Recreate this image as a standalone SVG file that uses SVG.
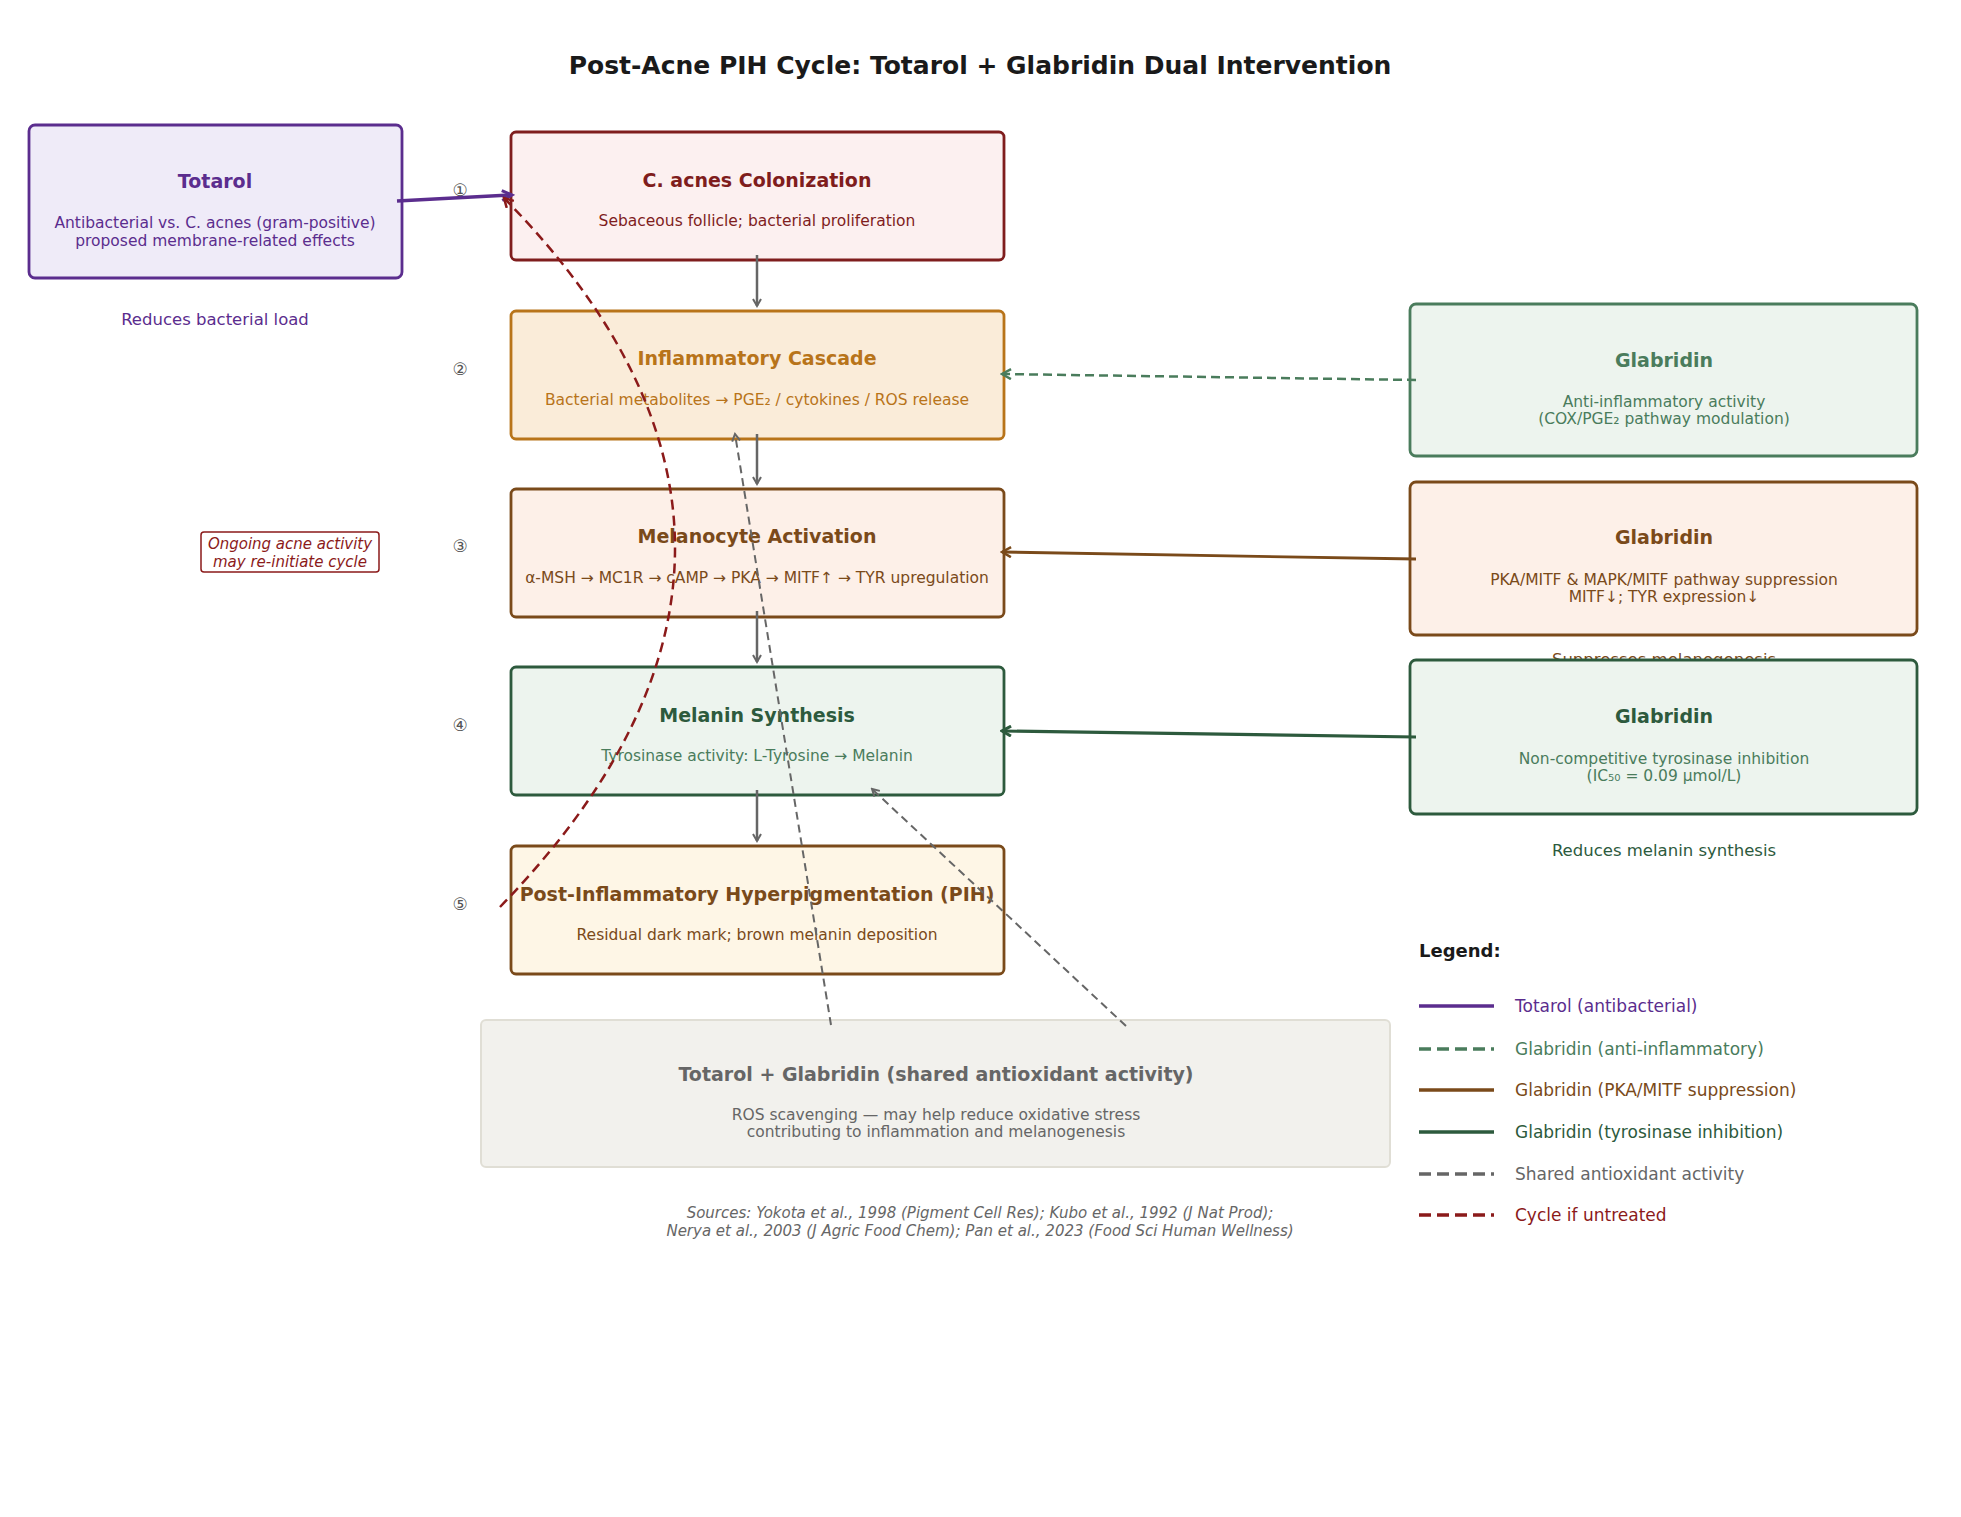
<svg xmlns="http://www.w3.org/2000/svg" width="1961" height="1517" viewBox="0 0 1961 1517">
<style>
text{font-family:"DejaVu Sans","Noto Sans",sans-serif;text-anchor:middle}
.t{font-size:19px;font-weight:bold}
.s{font-size:15.5px}
.n{font-size:17px;fill:#555}
.box{stroke-width:2.8}
.lg{font-size:17px;text-anchor:start}
</style>
<defs>
<marker id="ag" markerWidth="10" markerHeight="10" refX="8" refY="5" orient="auto" markerUnits="userSpaceOnUse"><path d="M1,1 L8,5 L1,9" fill="none" stroke="#666" stroke-width="2"/></marker>
<marker id="ap" markerWidth="14" markerHeight="14" refX="11" refY="7" orient="auto" markerUnits="userSpaceOnUse"><path d="M1,2 L11,7 L1,12" fill="none" stroke="#5b2d8e" stroke-width="3"/></marker>
<marker id="agr" markerWidth="12" markerHeight="12" refX="10" refY="6" orient="auto" markerUnits="userSpaceOnUse"><path d="M1,1 L10,6 L1,11" fill="none" stroke="#4a7c5c" stroke-width="2.5"/></marker>
<marker id="ab" markerWidth="12" markerHeight="12" refX="10" refY="6" orient="auto" markerUnits="userSpaceOnUse"><path d="M1,1 L10,6 L1,11" fill="none" stroke="#7a4a1a" stroke-width="2.5"/></marker>
<marker id="adg" markerWidth="12" markerHeight="12" refX="10" refY="6" orient="auto" markerUnits="userSpaceOnUse"><path d="M1,1 L10,6 L1,11" fill="none" stroke="#2d5a3d" stroke-width="3"/></marker>
<marker id="ar" markerWidth="12" markerHeight="12" refX="10" refY="6" orient="auto" markerUnits="userSpaceOnUse"><path d="M1,1 L10,6 L1,11" fill="none" stroke="#8b1a1a" stroke-width="2.5"/></marker>
</defs>
<rect width="1961" height="1517" fill="#fff"/>
<text x="980" y="74" style="font-size:25px;font-weight:bold" fill="#1a1a1a">Post-Acne PIH Cycle: Totarol + Glabridin Dual Intervention</text>

<g id="totarol">
<rect class="box" x="29" y="125" width="373" height="153" rx="6" fill="#efebf8" stroke="#5b2d8e"/>
<text class="t" x="215" y="188" fill="#5b2d8e">Totarol</text>
<text class="s" x="215" y="228" fill="#5b2d8e">Antibacterial vs. C. acnes (gram-positive)</text>
<text class="s" x="215" y="246" fill="#5b2d8e">proposed membrane-related effects</text>
<text x="215" y="325" style="font-size:16.5px" fill="#5b2d8e">Reduces bacterial load</text>
</g>

<g id="colonization">
<rect class="box" x="511" y="132" width="493" height="128" rx="5" fill="#fcf0f0" stroke="#7f1d1d"/>
<text class="t" x="757" y="187" fill="#7f1d1d">C. acnes Colonization</text>
<text class="s" x="757" y="226" fill="#7f1d1d">Sebaceous follicle; bacterial proliferation</text>
</g>
<g id="inflammatory">
<rect class="box" x="511" y="311" width="493" height="128" rx="5" fill="#faecd9" stroke="#b8741a"/>
<text class="t" x="757" y="365" fill="#b8741a">Inflammatory Cascade</text>
<text class="s" x="757" y="405" fill="#b8741a">Bacterial metabolites → PGE₂ / cytokines / ROS release</text>
</g>
<g id="melanocyte">
<rect class="box" x="511" y="489" width="493" height="128" rx="5" fill="#fdf0e8" stroke="#7a4a1a"/>
<text class="t" x="757" y="543" fill="#7a4a1a">Melanocyte Activation</text>
<text class="s" x="757" y="583" fill="#7a4a1a">α-MSH → MC1R → cAMP → PKA → MITF↑ → TYR upregulation</text>
</g>
<g id="melanin">
<rect class="box" x="511" y="667" width="493" height="128" rx="5" fill="#edf4ee" stroke="#2d5a3d"/>
<text class="t" x="757" y="722" fill="#2d5a3d">Melanin Synthesis</text>
<text class="s" x="757" y="761" fill="#4a7c5c">Tyrosinase activity: L-Tyrosine → Melanin</text>
</g>
<g id="pih">
<rect class="box" x="511" y="846" width="493" height="128" rx="5" fill="#fef6e6" stroke="#7a4a1a"/>
<text class="t" x="757" y="901" fill="#7a4a1a">Post-Inflammatory Hyperpigmentation (PIH)</text>
<text class="s" x="757" y="940" fill="#7a4a1a">Residual dark mark; brown melanin deposition</text>
</g>

<g id="glab1">
<rect class="box" x="1410" y="304" width="507" height="152" rx="6" fill="#edf4ee" stroke="#4a7c5c"/>
<text class="t" x="1664" y="367" fill="#4a7c5c">Glabridin</text>
<text class="s" x="1664" y="407" fill="#4a7c5c">Anti-inflammatory activity</text>
<text class="s" x="1664" y="424" fill="#4a7c5c">(COX/PGE₂ pathway modulation)</text>
<text x="1664" y="493" style="font-size:16.5px" fill="#4a7c5c">Modulates inflammatory</text>
<text x="1664" y="514" style="font-size:16.5px" fill="#4a7c5c">melanogenic signaling</text>
</g>
<g id="glab2">
<rect class="box" x="1410" y="482" width="507" height="153" rx="6" fill="#fdf0e8" stroke="#7a4a1a"/>
<text class="t" x="1664" y="544" fill="#7a4a1a">Glabridin</text>
<text class="s" x="1664" y="585" fill="#7a4a1a">PKA/MITF &amp; MAPK/MITF pathway suppression</text>
<text class="s" x="1664" y="602" fill="#7a4a1a">MITF↓; TYR expression↓</text>
<text x="1664" y="665" style="font-size:16.5px" fill="#7a4a1a">Suppresses melanogenesis</text>
<text x="1664" y="686" style="font-size:16.5px" fill="#7a4a1a">at transcription level</text>
</g>
<g id="glab3">
<rect class="box" x="1410" y="660" width="507" height="154" rx="6" fill="#edf4ee" stroke="#2d5a3d"/>
<text class="t" x="1664" y="723" fill="#2d5a3d">Glabridin</text>
<text class="s" x="1664" y="764" fill="#4a7c5c">Non-competitive tyrosinase inhibition</text>
<text class="s" x="1664" y="781" fill="#4a7c5c">(IC₅₀ = 0.09 μmol/L)</text>
<text x="1664" y="856" style="font-size:16.5px" fill="#2d5a3d">Reduces melanin synthesis</text>
</g>

<g id="antioxidant">
<rect x="481" y="1020" width="909" height="147" rx="5" fill="#f2f1ed" stroke="#e0ded5" stroke-width="2"/>
<text class="t" x="936" y="1081" fill="#666">Totarol + Glabridin (shared antioxidant activity)</text>
<text class="s" x="936" y="1120" fill="#666">ROS scavenging — may help reduce oxidative stress</text>
<text class="s" x="936" y="1137" fill="#666">contributing to inflammation and melanogenesis</text>
</g>

<g id="ongoing">
<rect x="201" y="532" width="178" height="40" rx="3" fill="#fff" stroke="#8b1a1a" stroke-width="1.5"/>
<text x="290" y="549" style="font-size:15px;font-style:italic" fill="#8b1a1a">Ongoing acne activity</text>
<text x="290" y="567" style="font-size:15px;font-style:italic" fill="#8b1a1a">may re-initiate cycle</text>
</g>

<g id="numbers">
<text class="n" x="460" y="196">①</text>
<text class="n" x="460" y="375">②</text>
<text class="n" x="460" y="552">③</text>
<text class="n" x="460" y="731">④</text>
<text class="n" x="460" y="910">⑤</text>
</g>

<g id="connectors" fill="none">
<line x1="757" y1="255" x2="757" y2="306" stroke="#666" stroke-width="2.5" marker-end="url(#ag)"/>
<line x1="757" y1="434" x2="757" y2="484" stroke="#666" stroke-width="2.5" marker-end="url(#ag)"/>
<line x1="757" y1="611" x2="757" y2="662" stroke="#666" stroke-width="2.5" marker-end="url(#ag)"/>
<line x1="757" y1="790" x2="757" y2="841" stroke="#666" stroke-width="2.5" marker-end="url(#ag)"/>
<line x1="397" y1="201" x2="512" y2="195" stroke="#5b2d8e" stroke-width="3.5" marker-end="url(#ap)"/>
<line x1="1416" y1="380" x2="1002" y2="374" stroke="#4a7c5c" stroke-width="2.5" stroke-dasharray="9,5" marker-end="url(#agr)"/>
<line x1="1416" y1="559" x2="1002" y2="552" stroke="#7a4a1a" stroke-width="2.8" marker-end="url(#ab)"/>
<line x1="1416" y1="737" x2="1002" y2="731" stroke="#2d5a3d" stroke-width="3.2" marker-end="url(#adg)"/>
<line x1="831" y1="1025" x2="735" y2="434" stroke="#666" stroke-width="2" stroke-dasharray="8,5" marker-end="url(#ag)"/>
<line x1="1126" y1="1026" x2="872" y2="789" stroke="#666" stroke-width="2" stroke-dasharray="8,5" marker-end="url(#ag)"/>
<path d="M500,907 Q848,548 504,198" stroke="#8b1a1a" stroke-width="2.5" stroke-dasharray="10,6" marker-end="url(#ar)"/>
</g>

<g id="legend">
<text x="1419" y="957" style="font-size:18px;font-weight:bold;text-anchor:start" fill="#1a1a1a">Legend:</text>
<line x1="1419" y1="1006" x2="1494" y2="1006" stroke="#5b2d8e" stroke-width="3.5"/>
<text class="lg" x="1515" y="1012" fill="#5b2d8e">Totarol (antibacterial)</text>
<line x1="1419" y1="1049" x2="1494" y2="1049" stroke="#4a7c5c" stroke-width="3.5" stroke-dasharray="12,6"/>
<text class="lg" x="1515" y="1055" fill="#4a7c5c">Glabridin (anti-inflammatory)</text>
<line x1="1419" y1="1090" x2="1494" y2="1090" stroke="#7a4a1a" stroke-width="3.5"/>
<text class="lg" x="1515" y="1096" fill="#7a4a1a">Glabridin (PKA/MITF suppression)</text>
<line x1="1419" y1="1132" x2="1494" y2="1132" stroke="#2d5a3d" stroke-width="3.5"/>
<text class="lg" x="1515" y="1138" fill="#2d5a3d">Glabridin (tyrosinase inhibition)</text>
<line x1="1419" y1="1174" x2="1494" y2="1174" stroke="#666" stroke-width="3.5" stroke-dasharray="12,6"/>
<text class="lg" x="1515" y="1180" fill="#666">Shared antioxidant activity</text>
<line x1="1419" y1="1215" x2="1494" y2="1215" stroke="#8b1a1a" stroke-width="3.5" stroke-dasharray="12,6"/>
<text class="lg" x="1515" y="1221" fill="#8b1a1a">Cycle if untreated</text>
</g>

<text x="980" y="1218" style="font-size:15px;font-style:italic" fill="#666">Sources: Yokota et al., 1998 (Pigment Cell Res); Kubo et al., 1992 (J Nat Prod);</text>
<text x="980" y="1236" style="font-size:15px;font-style:italic" fill="#666">Nerya et al., 2003 (J Agric Food Chem); Pan et al., 2023 (Food Sci Human Wellness)</text>
</svg>
